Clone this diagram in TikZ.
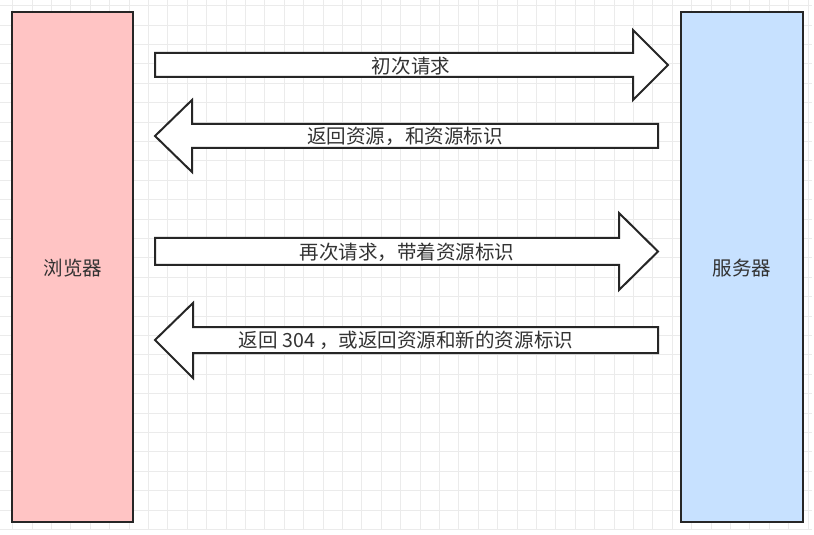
\documentclass[tikz,border=0pt]{standalone}
\usepackage{fontspec}
\setmainfont{Noto Sans CJK SC}
\begin{document}
\begin{tikzpicture}[x=1bp,y=-1bp,
  box/.style={draw=black!85,line width=2bp},
  blockarrow/.style={draw=black!85,line width=2bp,fill=white,line join=miter},
  lbl/.style={font=\fontsize{19.6}{21}\selectfont,text=black!80,inner sep=0pt}]
\useasboundingbox (0,0) rectangle (814,535);
\fill[white] (0,0) rectangle (814,535);
% grid
\foreach \k in {0,...,41} {\draw[black!8,line width=0.9bp] ({12.6+19.4*\k},0) -- ({12.6+19.4*\k},530);}
\foreach \k in {0,...,27} {\draw[black!8,line width=0.9bp] (0,{5.6+19.4*\k}) -- (812,{5.6+19.4*\k});}
% boxes
\draw[box,fill={rgb,255:red,255;green,196;blue,196}] (12,12) rectangle (133,522);
\node[lbl] (browser) at (73,268) {浏览器};
\draw[box,fill={rgb,255:red,199;green,225;blue,255}] (681,12) rectangle (803,522);
\node[lbl] (server) at (742,268) {服务器};
% arrow 1 (right)
\draw[blockarrow] (155,53) -- (633,53) -- (633,30) -- (668,65) -- (633,100) -- (633,77) -- (155,77) -- cycle;
\node[lbl] (a1) at (411,66) {初次请求};
% arrow 2 (left)
\draw[blockarrow] (658,124) -- (192,124) -- (192,100) -- (155,136) -- (192,172) -- (192,148) -- (658,148) -- cycle;
\node[lbl] (a2) at (405,136) {返回资源，和资源标识};
% arrow 3 (right)
\draw[blockarrow] (155,238) -- (619,238) -- (619,213) -- (658,251.5) -- (619,290) -- (619,265) -- (155,265) -- cycle;
\node[lbl] (a3) at (407,252) {再次请求，带着资源标识};
% arrow 4 (left)
\draw[blockarrow] (658,327) -- (193,327) -- (193,303) -- (155,340) -- (193,378) -- (193,353) -- (658,353) -- cycle;
\node[lbl] (a4) at (406,340) {返回 304 ，或返回资源和新的资源标识};
\end{tikzpicture}
\end{document}
